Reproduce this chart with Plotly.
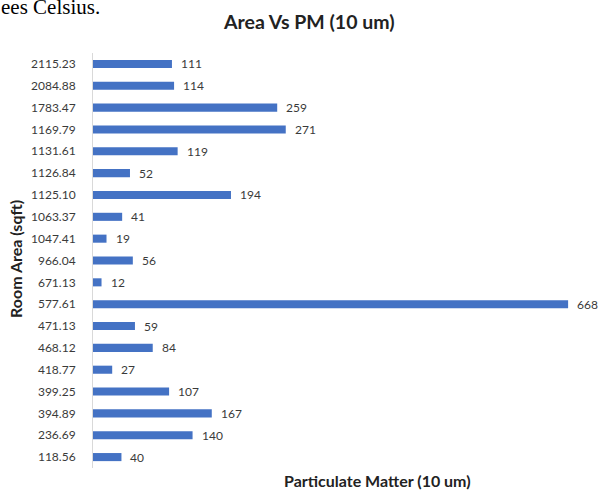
import plotly.graph_objects as go

# Room areas (sqft), listed bottom to top as drawn on the category axis
room_area = ["118.56", "236.69", "394.89", "399.25", "418.77", "468.12", "471.13",
             "577.61", "671.13", "966.04", "1047.41", "1063.37", "1125.10", "1126.84",
             "1131.61", "1169.79", "1783.47", "2084.88", "2115.23"]
pm10 = [40, 140, 167, 107, 27, 84, 59, 668, 12, 56, 19, 41, 194, 52, 119, 271, 259, 114, 111]

W, H = 599, 492
L, R, T, B = 93, 6, 53, 24
PW, PH = W - L - R, H - T - B

fig = go.Figure()
fig.add_trace(go.Bar(
    x=pm10, y=room_area, orientation="h",
    marker=dict(color="#4472C4", line=dict(width=0)),
    hoverinfo="x+y",
))

# value labels just past each bar end (category index used for y, since the
# category names look numeric)
annotations = [
    dict(x=v, y=i, xref="x", yref="y", text=str(v), showarrow=False,
         xanchor="left", xshift=7, font=dict(size=12, color="#3A3A3A", family="Lato"))
    for i, v in enumerate(pm10)
]

annotations += [
    dict(text="<b>Area Vs PM (10 um)</b>", xref="paper", yref="paper",
         x=(309 - L) / PW, y=1 + (T - 22) / PH,
         showarrow=False, xanchor="center", yanchor="middle",
         font=dict(size=19.5, color="#222222", family="Lato")),
    dict(text="<b>Particulate Matter (10 um)</b>", xref="paper", yref="paper",
         x=(377 - L) / PW, y=-(480 - (H - B)) / PH,
         showarrow=False, xanchor="center", yanchor="middle",
         font=dict(size=16, color="#222222", family="Lato")),
    dict(text="<b>Room Area (sqft)</b>", xref="paper", yref="paper",
         x=-(L - 15) / PW, y=1 - (259 - T) / PH,
         showarrow=False, xanchor="center", yanchor="middle", textangle=-90,
         font=dict(size=16, color="#222222", family="Lato")),
    dict(text="ees Celsius.", xref="paper", yref="paper",
         x=-(L + 1) / PW, y=1 + (T - 21) / PH,
         showarrow=False, xanchor="left", yanchor="bottom",
         font=dict(size=21, color="#000000", family="Liberation Serif")),
]

fig.update_layout(
    width=W, height=H,
    margin=dict(l=L, r=R, t=T, b=B, pad=0),
    paper_bgcolor="white", plot_bgcolor="white",
    bargap=0.63,
    showlegend=False,
    annotations=annotations,
    xaxis=dict(range=[0, 703], showticklabels=False, showgrid=False,
               zeroline=False, showline=False, ticks=""),
    yaxis=dict(type="category", categoryorder="array", categoryarray=room_area,
               range=[-0.5, len(room_area) - 0.5], autorange=False,
               showgrid=False, zeroline=False, showline=True, linecolor="#D9D9D9",
               linewidth=1, ticks="", ticklabelstandoff=14,
               tickfont=dict(size=12, color="#3A3A3A", family="Lato")),
    font=dict(family="Lato"),
)

fig.write_html("out.html")
